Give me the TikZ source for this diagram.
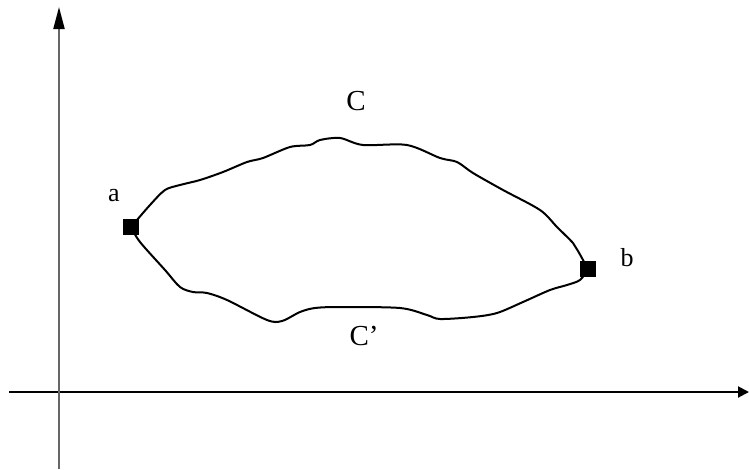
\documentclass[tikz,border=0pt]{standalone}
\usepackage{fontspec}
\setmainfont{Liberation Serif}
\usetikzlibrary{arrows.meta, positioning}

\tikzset{
  axis/.style={line width=2pt},
  path/.style={line width=2pt, black},
  endpoint/.style={draw=none, fill=black, minimum size=16pt, inner sep=0pt},
  lbl/.style={font=\fontsize{26}{30}\selectfont},
  biglbl/.style={font=\fontsize{29}{33}\selectfont}
}

\begin{document}
\begin{tikzpicture}[x=1pt, y=-1pt]
  \useasboundingbox (0,0) rectangle (749,469);

  % Axes
  \coordinate (xstart) at (9,392);
  \coordinate (xend) at (749,392);
  \coordinate (ystart) at (59,469);
  \coordinate (yend) at (59,7);
  \draw[axis, -{Triangle[length=11pt, width=11pt]}] (xstart) -- (xend);
  \draw[axis, black!60, -{Triangle[length=22pt, width=11pt, fill=black, color=black]}] (ystart) -- (yend);

  % End points
  \coordinate (a) at (131,227);
  \coordinate (b) at (588,269);

  % Upper path C
  \draw[path] plot[smooth, tension=0.5] coordinates {
    (a) (150,205) (165,190) (180,185) (200,180) (223,172) (247,162) (263,158)
    (290,147) (310,145) (320,140) (340,138) (363,145) (407,145) (440,158)
    (457,162) (473,173) (503,190) (540,210) (557,227) (573,243) (578,251) (b)
  };

  % Lower path C'
  \draw[path] plot[smooth, tension=0.5] coordinates {
    (a) (140,242) (165,270) (180,287) (193,292) (207,293) (227,300) (267,320)
    (282,321) (300,312) (315,308) (340,307) (400,308) (427,315) (440,319)
    (473,317) (497,313) (523,302) (550,290) (567,285) (580,280) (b)
  };

  % Markers
  \node[endpoint] (ma) at (a) {};
  \node[endpoint] (mb) at (b) {};

  % Labels
  \node[lbl] (la) at (114,196) {a};
  \node[lbl] (lb) at (627,258) {b};
  \node[biglbl] (lc) at (356,101) {C};
  \node[biglbl] (lcc) at (364,336) {C'};
\end{tikzpicture}
\end{document}
